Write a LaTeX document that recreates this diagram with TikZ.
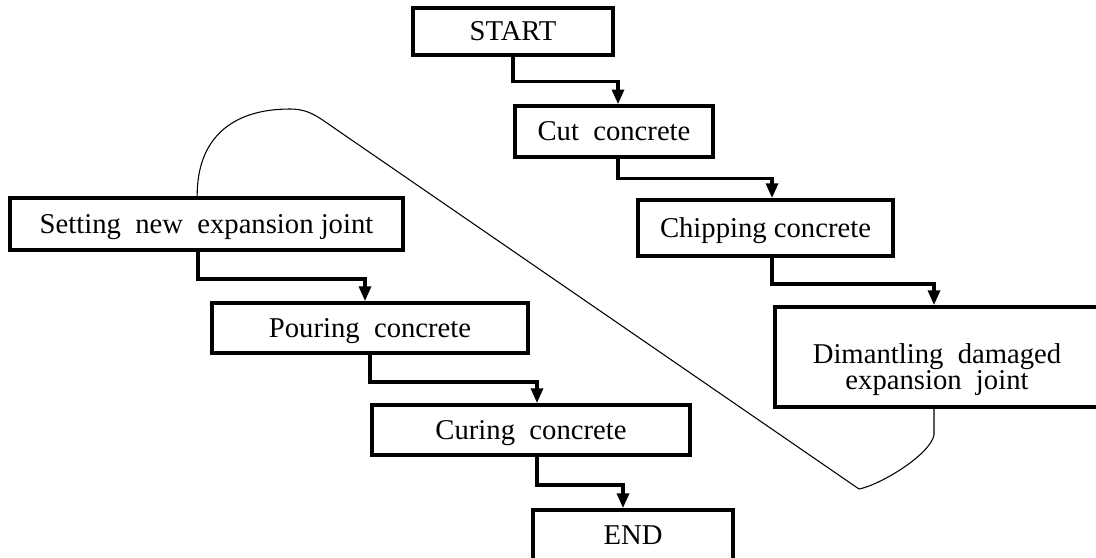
\documentclass[tikz,border=0pt]{standalone}
\usepackage{fontspec}
\setmainfont{Liberation Serif}
\usetikzlibrary{arrows.meta}
\tikzset{
  stepbox/.style  = {draw, line width=3pt, rectangle, inner sep=0pt, align=center,
                     text depth=0pt, font=\fontsize{21.5}{19.5}\selectfont},
  flow/.style     = {-{Triangle[length=11pt,width=9pt]}, line width=2.4pt},
  loopback/.style = {line width=0.8pt},
}

\begin{document}
\begin{tikzpicture}[x=0.75pt,y=-0.75pt]
\useasboundingbox (0,0) rectangle (1096,557);
\clip (0,0) rectangle (1096,557);
% right-hand column
\node[stepbox, minimum width=150pt, minimum height=35pt] (start) at (513,31.5) {START};
\node[stepbox, minimum width=148.5pt, minimum height=38pt] (cut) at (614,131.5) {Cut\ \ concrete};
\node[stepbox, minimum width=191pt, minimum height=42pt] (chip) at (765.5,228) {Chipping concrete};
\node[stepbox, minimum width=243pt, minimum height=75pt] (dim) at (937,357)
  {\rule{0pt}{29pt}Dimantling\ \ damaged\\expansion\ \ joint};
% left-hand column
\node[stepbox, minimum width=295pt, minimum height=39pt] (set) at (206.5,224) {Setting\ \ new\ \ expansion\ joint};
\node[stepbox, minimum width=237pt, minimum height=37.5pt] (pour) at (370,328) {Pouring\ \ concrete};
\node[stepbox, minimum width=238.5pt, minimum height=37.5pt] (cure) at (531,430) {Curing\ \ concrete};
\node[stepbox, minimum width=150pt, minimum height=37.5pt] (fin) at (633,535) {END};
% elbow connectors
\draw[flow] (start.south) -- ++(0,25) -| ([xshift=3pt]cut.north);
\draw[flow] ([xshift=3pt]cut.south) -- ++(0,20) -| ([xshift=4.9pt]chip.north);
\draw[flow] ([xshift=4.9pt]chip.south) -- ++(0,26) -| ([xshift=-2.25pt]dim.north);
\draw[flow] ([xshift=-6.4pt]set.south) -- ++(0,27) -| ([xshift=-3.75pt]pour.north);
\draw[flow] (pour.south) -- ++(0,27) -| ([xshift=4.5pt]cure.north);
\draw[flow] ([xshift=4.5pt]cure.south) -- ++(0,28) -| ([xshift=-7.5pt]fin.north);
% thin loop carrying the flow back over to the left column
\draw[loopback] ([xshift=-2.25pt]dim.south) -- ++(0,26)
  .. controls (930,455) and (880,485) .. (859,489) -- (340,132)
  .. controls (319,117.7) and (310,109) .. (290,109)
  .. controls (230,109) and (197,140) .. ([xshift=-7pt]set.north);
\end{tikzpicture}
\end{document}
